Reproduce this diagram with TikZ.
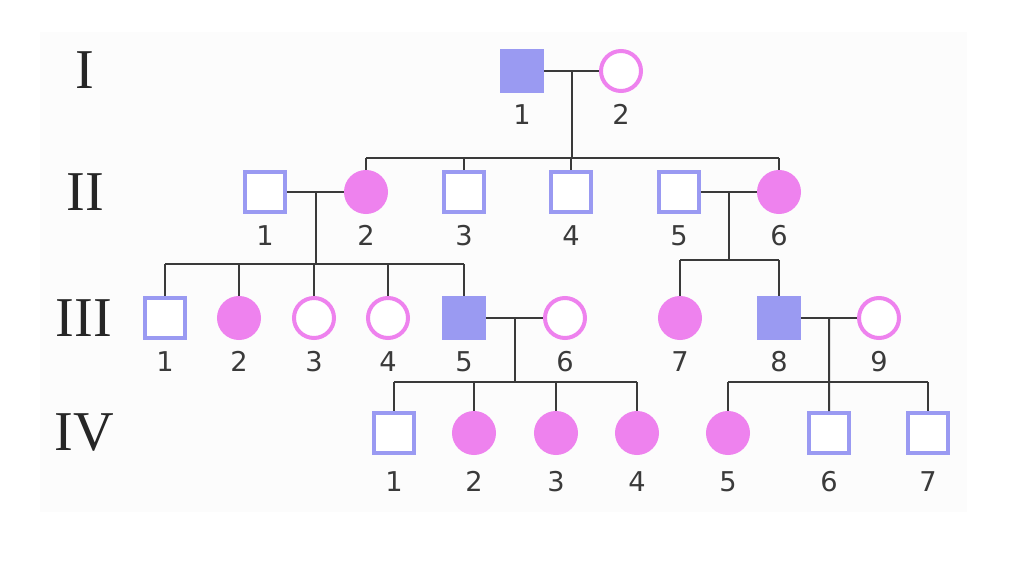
\documentclass[tikz,border=0pt]{standalone}
\usepackage{fontspec}
\setmainfont{Liberation Serif}
\newfontfamily\numfont{DejaVu Sans}
\usetikzlibrary{calc}
\definecolor{boy}{HTML}{9A9AF2}
\definecolor{girl}{HTML}{EE82EE}
\definecolor{ink}{HTML}{3A3A3A}
\tikzset{
  person/.style={minimum size=0.8cm, inner sep=0pt, line width=0.08cm},
  male/.style={person, draw=boy, fill=white},
  malea/.style={person, draw=boy, fill=boy},
  female/.style={person, circle, draw=girl, fill=white},
  femalea/.style={person, circle, draw=girl, fill=girl},
  num/.style={font=\numfont\fontsize{15.5}{16}\selectfont, text=ink, inner sep=0pt, text height=0.73em, text depth=0pt},
  gen/.style={font=\fontsize{32}{34}\selectfont, text=black!85},
  line/.style={draw=ink, line width=0.04cm}
}
\begin{document}
\begin{tikzpicture}[x=0.02cm, y=-0.02cm, label distance=0.36cm]
  \useasboundingbox (0,0) rectangle (1036,568);
  \fill[black!1] (40,32) rectangle (967,512);
  % generations
  \node[gen] (gI) at (85,70) {I};
  \node[gen] (gII) at (85,192) {II};
  \node[gen] (gIII) at (84,318) {III};
  \node[gen] (gIV) at (84,433) {IV};
  % generation I
  \node[malea, label={[num]below:1}] (I1) at (522,71) {};
  \node[female, label={[num]below:2}] (I2) at (621,71) {};
  % generation II
  \node[male, label={[num]below:1}] (II1) at (265,192) {};
  \node[femalea, label={[num]below:2}] (II2) at (366,192) {};
  \node[male, label={[num]below:3}] (II3) at (464,192) {};
  \node[male, label={[num]below:4}] (II4) at (571,192) {};
  \node[male, label={[num]below:5}] (II5) at (679,192) {};
  \node[femalea, label={[num]below:6}] (II6) at (779,192) {};
  % generation III
  \node[male, label={[num]below:1}] (III1) at (165,318) {};
  \node[femalea, label={[num]below:2}] (III2) at (239,318) {};
  \node[female, label={[num]below:3}] (III3) at (314,318) {};
  \node[female, label={[num]below:4}] (III4) at (388,318) {};
  \node[malea, label={[num]below:5}] (III5) at (464,318) {};
  \node[female, label={[num]below:6}] (III6) at (565,318) {};
  \node[femalea, label={[num]below:7}] (III7) at (680,318) {};
  \node[malea, label={[num]below:8}] (III8) at (779,318) {};
  \node[female, label={[num]below:9}] (III9) at (879,318) {};
  % generation IV
  \begin{scope}[label distance=0.46cm]
  \node[male, label={[num]below:1}] (IV1) at (394,433) {};
  \node[femalea, label={[num]below:2}] (IV2) at (474,433) {};
  \node[femalea, label={[num]below:3}] (IV3) at (556,433) {};
  \node[femalea, label={[num]below:4}] (IV4) at (637,433) {};
  \node[femalea, label={[num]below:5}] (IV5) at (728,433) {};
  \node[male, label={[num]below:6}] (IV6) at (829,433) {};
  \node[male, label={[num]below:7}] (IV7) at (928,433) {};
  \end{scope}
  % marriages
  \coordinate (m1) at ($(I1)!0.5!(I2)$);
  \coordinate (m2) at ($(II1)!0.5!(II2)$);
  \coordinate (m3) at ($(II5)!0.5!(II6)$);
  \coordinate (m4) at ($(III5)!0.5!(III6)$);
  \coordinate (m5) at ($(III8)!0.5!(III9)$);
  % sibship lines
  \coordinate (s1) at (0,158);
  \coordinate (s2) at (0,264);
  \coordinate (s3) at (0,260);
  \coordinate (s4) at (0,382);
  \coordinate (s5) at (0,382);
  \path[line] (I1) edge (I2)
    (II1) edge (II2)
    (II5) edge (II6)
    (III5) edge (III6)
    (III8) edge (III9)
    (m1) edge (m1|-s1)
    (m2) edge (m2|-s2)
    (m3) edge (m3|-s3)
    (m4) edge (m4|-s4)
    (m5) edge (IV6)
    (II2|-s1) edge (II6|-s1)
    (III1|-s2) edge (III5|-s2)
    (III7|-s3) edge (III8|-s3)
    (IV1|-s4) edge (IV4|-s4)
    (IV5|-s5) edge (IV7|-s5);
  \foreach \c in {II2,II3,II4,II6}
    \draw[line] (\c|-s1) -- (\c);
  \foreach \c in {III1,III2,III3,III4,III5}
    \draw[line] (\c|-s2) -- (\c);
  \foreach \c in {III7,III8}
    \draw[line] (\c|-s3) -- (\c);
  \foreach \c in {IV1,IV2,IV3,IV4}
    \draw[line] (\c|-s4) -- (\c);
  \foreach \c in {IV5,IV7}
    \draw[line] (\c|-s5) -- (\c);
\end{tikzpicture}
\end{document}
